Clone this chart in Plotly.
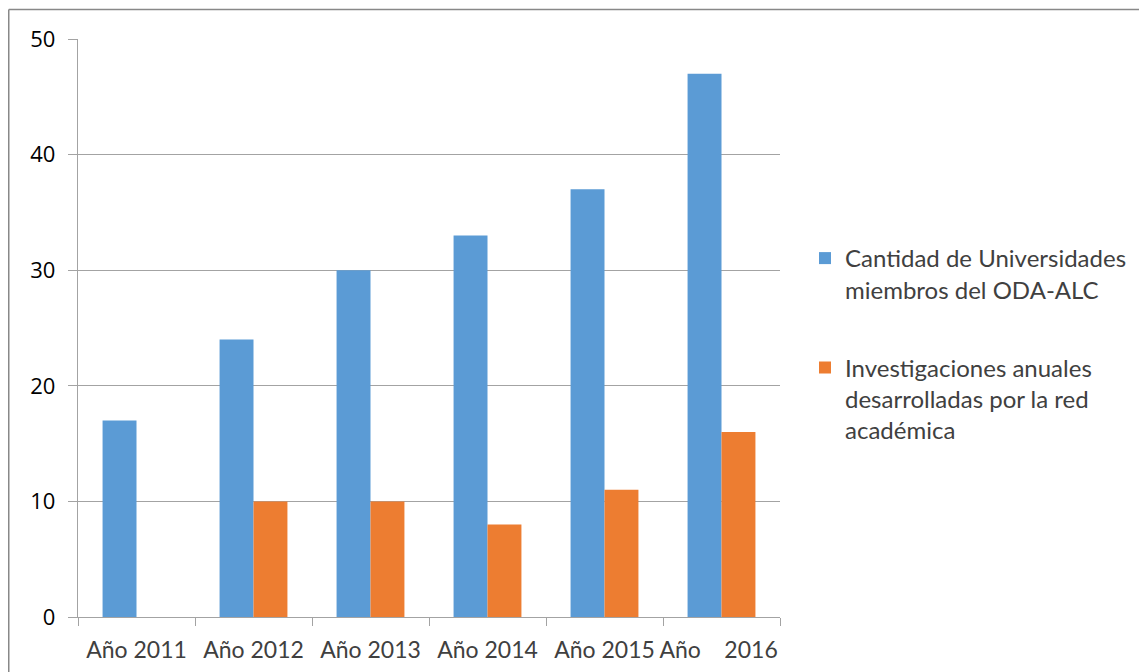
import plotly.graph_objects as go

categories = ["Año 2011", "Año 2012", "Año 2013", "Año 2014", "Año 2015", "Año\u00a0\u00a0\u00a0\u00a02016\u00a0"]
universidades = [17, 24, 30, 33, 37, 47]
investigaciones = [None, 10, 10, 8, 11, 16]
series_names = [
    "Cantidad de Universidades<br>miembros del ODA-ALC",
    "Investigaciones anuales<br>desarrolladas por la red<br>académica",
]
y_ticks = [0, 10, 20, 30, 40, 50]

BLUE = "#5B9BD5"
ORANGE = "#ED7D31"
GRID = "#A3A3A3"
TXT = "#404040"

fig = go.Figure()
fig.add_trace(go.Bar(x=categories, y=universidades, name=series_names[0],
                     marker=dict(color=BLUE, line=dict(width=0)), legendgroup="a"))
fig.add_trace(go.Bar(x=categories, y=investigaciones, name=series_names[1],
                     marker=dict(color=ORANGE, line=dict(width=0)), legendgroup="b"))

# page has an 8px body margin, so the figure is sized/placed to compensate
W, H = 1139, 664
L, T, R, B = 70, 31, 367, 55
pw, ph = W - L - R, H - T - B

fig.update_layout(
    width=W, height=H,
    margin=dict(l=L, r=R, t=T, b=B, autoexpand=False),
    paper_bgcolor="white", plot_bgcolor="white",
    barmode="group", bargap=0.42, bargroupgap=0,
    font=dict(family="Lato, sans-serif", size=22, color=TXT),
    showlegend=True,
    legend=dict(
        x=(797 - L) / pw, xanchor="left",
        y=(H - B - 228) / ph, yanchor="top",
        traceorder="grouped", tracegroupgap=44, valign="top",
        font=dict(family="Lato, sans-serif", size=24, color=TXT),
        bgcolor="rgba(0,0,0,0)", itemclick=False,
    ),
    xaxis=dict(
        type="category", showline=True, linecolor=GRID, linewidth=1.3,
        ticks="outside", tickson="boundaries", ticklen=8, tickcolor=GRID,
        showgrid=False, tickangle=0, automargin=False, ticklabelstandoff=12,
        tickfont=dict(family="Lato, sans-serif", size=23, color=TXT),
        fixedrange=True,
    ),
    yaxis=dict(
        range=[0, 50], tickvals=y_ticks, showline=True, linecolor=GRID, linewidth=1.3,
        ticks="outside", ticklen=9, tickcolor=GRID, showgrid=True, gridcolor=GRID,
        gridwidth=1.3, zeroline=False, automargin=False, ticklabelstandoff=8,
        tickfont=dict(family="Open Sans, sans-serif", size=22, color="#000000"),
        fixedrange=True,
    ),
)

# outer chart border (left and top edges visible)
bx0 = (0.75 - L) / pw
by1 = (H - B - 1.5) / ph
fig.add_shape(type="line", xref="paper", yref="paper", x0=bx0, x1=bx0, y0=by1, y1=-0.2,
              line=dict(color="#888888", width=1.5))
fig.add_shape(type="line", xref="paper", yref="paper", x0=bx0, x1=1.7, y0=by1, y1=by1,
              line=dict(color="#888888", width=1.5))

fig.write_html("out.html")
